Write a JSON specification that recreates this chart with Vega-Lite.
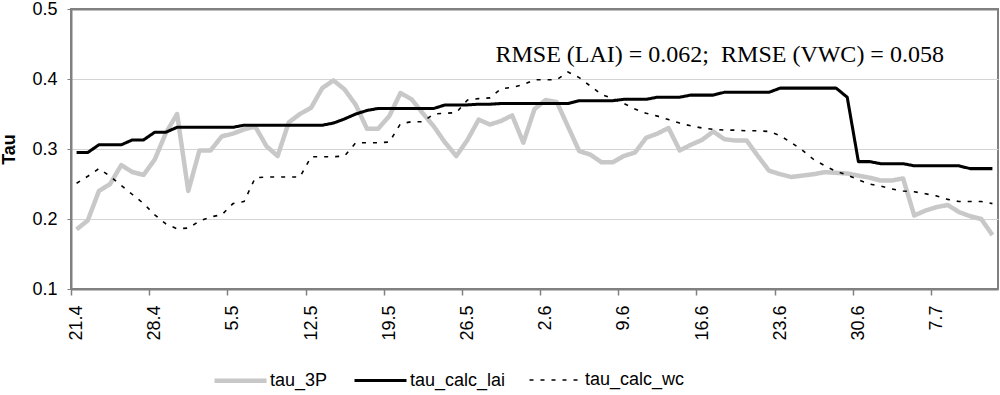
{
  "$schema": "https://vega.github.io/schema/vega-lite/v6.json",
  "width": 927,
  "height": 280,
  "autosize": {"type": "none"},
  "padding": {"left": 71, "top": 9, "right": 2, "bottom": 106},
  "background": "white",
  "config": {
    "view": {"stroke": "#808080", "strokeWidth": 2},
    "font": "Liberation Sans"
  },
  "layer": [
    {
      "data": {
        "values": [
          {"date": "2009-04-21", "tau_3P": 0.185, "tau_calc_lai": 0.295, "tau_calc_wc": 0.251},
          {"date": "2009-04-22", "tau_3P": 0.198, "tau_calc_lai": 0.295, "tau_calc_wc": 0.261},
          {"date": "2009-04-23", "tau_3P": 0.240, "tau_calc_lai": 0.306, "tau_calc_wc": 0.272},
          {"date": "2009-04-24", "tau_3P": 0.250, "tau_calc_lai": 0.306, "tau_calc_wc": 0.261},
          {"date": "2009-04-25", "tau_3P": 0.277, "tau_calc_lai": 0.306, "tau_calc_wc": 0.248},
          {"date": "2009-04-26", "tau_3P": 0.267, "tau_calc_lai": 0.313, "tau_calc_wc": 0.235},
          {"date": "2009-04-27", "tau_3P": 0.263, "tau_calc_lai": 0.313, "tau_calc_wc": 0.222},
          {"date": "2009-04-28", "tau_3P": 0.285, "tau_calc_lai": 0.324, "tau_calc_wc": 0.206},
          {"date": "2009-04-29", "tau_3P": 0.323, "tau_calc_lai": 0.324, "tau_calc_wc": 0.193},
          {"date": "2009-04-30", "tau_3P": 0.350, "tau_calc_lai": 0.331, "tau_calc_wc": 0.186},
          {"date": "2009-05-01", "tau_3P": 0.240, "tau_calc_lai": 0.331, "tau_calc_wc": 0.187},
          {"date": "2009-05-02", "tau_3P": 0.298, "tau_calc_lai": 0.331, "tau_calc_wc": 0.197},
          {"date": "2009-05-03", "tau_3P": 0.298, "tau_calc_lai": 0.331, "tau_calc_wc": 0.203},
          {"date": "2009-05-04", "tau_3P": 0.318, "tau_calc_lai": 0.331, "tau_calc_wc": 0.206},
          {"date": "2009-05-05", "tau_3P": 0.322, "tau_calc_lai": 0.331, "tau_calc_wc": 0.222},
          {"date": "2009-05-06", "tau_3P": 0.328, "tau_calc_lai": 0.334, "tau_calc_wc": 0.225},
          {"date": "2009-05-07", "tau_3P": 0.332, "tau_calc_lai": 0.334, "tau_calc_wc": 0.259},
          {"date": "2009-05-08", "tau_3P": 0.304, "tau_calc_lai": 0.334, "tau_calc_wc": 0.260},
          {"date": "2009-05-09", "tau_3P": 0.290, "tau_calc_lai": 0.334, "tau_calc_wc": 0.260},
          {"date": "2009-05-10", "tau_3P": 0.338, "tau_calc_lai": 0.334, "tau_calc_wc": 0.260},
          {"date": "2009-05-11", "tau_3P": 0.350, "tau_calc_lai": 0.334, "tau_calc_wc": 0.260},
          {"date": "2009-05-12", "tau_3P": 0.359, "tau_calc_lai": 0.334, "tau_calc_wc": 0.289},
          {"date": "2009-05-13", "tau_3P": 0.387, "tau_calc_lai": 0.334, "tau_calc_wc": 0.289},
          {"date": "2009-05-14", "tau_3P": 0.398, "tau_calc_lai": 0.337, "tau_calc_wc": 0.289},
          {"date": "2009-05-15", "tau_3P": 0.385, "tau_calc_lai": 0.343, "tau_calc_wc": 0.290},
          {"date": "2009-05-16", "tau_3P": 0.363, "tau_calc_lai": 0.350, "tau_calc_wc": 0.309},
          {"date": "2009-05-17", "tau_3P": 0.329, "tau_calc_lai": 0.355, "tau_calc_wc": 0.309},
          {"date": "2009-05-18", "tau_3P": 0.329, "tau_calc_lai": 0.358, "tau_calc_wc": 0.309},
          {"date": "2009-05-19", "tau_3P": 0.347, "tau_calc_lai": 0.358, "tau_calc_wc": 0.310},
          {"date": "2009-05-20", "tau_3P": 0.380, "tau_calc_lai": 0.358, "tau_calc_wc": 0.336},
          {"date": "2009-05-21", "tau_3P": 0.371, "tau_calc_lai": 0.358, "tau_calc_wc": 0.339},
          {"date": "2009-05-22", "tau_3P": 0.351, "tau_calc_lai": 0.358, "tau_calc_wc": 0.339},
          {"date": "2009-05-23", "tau_3P": 0.332, "tau_calc_lai": 0.358, "tau_calc_wc": 0.350},
          {"date": "2009-05-24", "tau_3P": 0.309, "tau_calc_lai": 0.363, "tau_calc_wc": 0.351},
          {"date": "2009-05-25", "tau_3P": 0.290, "tau_calc_lai": 0.363, "tau_calc_wc": 0.352},
          {"date": "2009-05-26", "tau_3P": 0.313, "tau_calc_lai": 0.363, "tau_calc_wc": 0.370},
          {"date": "2009-05-27", "tau_3P": 0.342, "tau_calc_lai": 0.364, "tau_calc_wc": 0.372},
          {"date": "2009-05-28", "tau_3P": 0.335, "tau_calc_lai": 0.364, "tau_calc_wc": 0.373},
          {"date": "2009-05-29", "tau_3P": 0.340, "tau_calc_lai": 0.365, "tau_calc_wc": 0.386},
          {"date": "2009-05-30", "tau_3P": 0.348, "tau_calc_lai": 0.365, "tau_calc_wc": 0.388},
          {"date": "2009-05-31", "tau_3P": 0.309, "tau_calc_lai": 0.365, "tau_calc_wc": 0.392},
          {"date": "2009-06-01", "tau_3P": 0.357, "tau_calc_lai": 0.365, "tau_calc_wc": 0.399},
          {"date": "2009-06-02", "tau_3P": 0.370, "tau_calc_lai": 0.365, "tau_calc_wc": 0.399},
          {"date": "2009-06-03", "tau_3P": 0.367, "tau_calc_lai": 0.365, "tau_calc_wc": 0.399},
          {"date": "2009-06-04", "tau_3P": 0.332, "tau_calc_lai": 0.365, "tau_calc_wc": 0.410},
          {"date": "2009-06-05", "tau_3P": 0.297, "tau_calc_lai": 0.369, "tau_calc_wc": 0.402},
          {"date": "2009-06-06", "tau_3P": 0.292, "tau_calc_lai": 0.369, "tau_calc_wc": 0.390},
          {"date": "2009-06-07", "tau_3P": 0.281, "tau_calc_lai": 0.369, "tau_calc_wc": 0.378},
          {"date": "2009-06-08", "tau_3P": 0.281, "tau_calc_lai": 0.369, "tau_calc_wc": 0.372},
          {"date": "2009-06-09", "tau_3P": 0.290, "tau_calc_lai": 0.371, "tau_calc_wc": 0.365},
          {"date": "2009-06-10", "tau_3P": 0.295, "tau_calc_lai": 0.371, "tau_calc_wc": 0.357},
          {"date": "2009-06-11", "tau_3P": 0.316, "tau_calc_lai": 0.371, "tau_calc_wc": 0.351},
          {"date": "2009-06-12", "tau_3P": 0.322, "tau_calc_lai": 0.374, "tau_calc_wc": 0.347},
          {"date": "2009-06-13", "tau_3P": 0.330, "tau_calc_lai": 0.374, "tau_calc_wc": 0.342},
          {"date": "2009-06-14", "tau_3P": 0.298, "tau_calc_lai": 0.374, "tau_calc_wc": 0.337},
          {"date": "2009-06-15", "tau_3P": 0.306, "tau_calc_lai": 0.377, "tau_calc_wc": 0.333},
          {"date": "2009-06-16", "tau_3P": 0.313, "tau_calc_lai": 0.377, "tau_calc_wc": 0.330},
          {"date": "2009-06-17", "tau_3P": 0.325, "tau_calc_lai": 0.377, "tau_calc_wc": 0.328},
          {"date": "2009-06-18", "tau_3P": 0.314, "tau_calc_lai": 0.381, "tau_calc_wc": 0.327},
          {"date": "2009-06-19", "tau_3P": 0.312, "tau_calc_lai": 0.381, "tau_calc_wc": 0.327},
          {"date": "2009-06-20", "tau_3P": 0.312, "tau_calc_lai": 0.381, "tau_calc_wc": 0.326},
          {"date": "2009-06-21", "tau_3P": 0.290, "tau_calc_lai": 0.381, "tau_calc_wc": 0.326},
          {"date": "2009-06-22", "tau_3P": 0.269, "tau_calc_lai": 0.381, "tau_calc_wc": 0.325},
          {"date": "2009-06-23", "tau_3P": 0.264, "tau_calc_lai": 0.387, "tau_calc_wc": 0.319},
          {"date": "2009-06-24", "tau_3P": 0.260, "tau_calc_lai": 0.387, "tau_calc_wc": 0.309},
          {"date": "2009-06-25", "tau_3P": 0.262, "tau_calc_lai": 0.387, "tau_calc_wc": 0.298},
          {"date": "2009-06-26", "tau_3P": 0.264, "tau_calc_lai": 0.387, "tau_calc_wc": 0.285},
          {"date": "2009-06-27", "tau_3P": 0.267, "tau_calc_lai": 0.387, "tau_calc_wc": 0.276},
          {"date": "2009-06-28", "tau_3P": 0.266, "tau_calc_lai": 0.387, "tau_calc_wc": 0.268},
          {"date": "2009-06-29", "tau_3P": 0.265, "tau_calc_lai": 0.374, "tau_calc_wc": 0.263},
          {"date": "2009-06-30", "tau_3P": 0.262, "tau_calc_lai": 0.282, "tau_calc_wc": 0.256},
          {"date": "2009-07-01", "tau_3P": 0.259, "tau_calc_lai": 0.282, "tau_calc_wc": 0.250},
          {"date": "2009-07-02", "tau_3P": 0.255, "tau_calc_lai": 0.279, "tau_calc_wc": 0.247},
          {"date": "2009-07-03", "tau_3P": 0.255, "tau_calc_lai": 0.279, "tau_calc_wc": 0.243},
          {"date": "2009-07-04", "tau_3P": 0.258, "tau_calc_lai": 0.279, "tau_calc_wc": 0.240},
          {"date": "2009-07-05", "tau_3P": 0.205, "tau_calc_lai": 0.276, "tau_calc_wc": 0.239},
          {"date": "2009-07-06", "tau_3P": 0.212, "tau_calc_lai": 0.276, "tau_calc_wc": 0.236},
          {"date": "2009-07-07", "tau_3P": 0.217, "tau_calc_lai": 0.276, "tau_calc_wc": 0.233},
          {"date": "2009-07-08", "tau_3P": 0.220, "tau_calc_lai": 0.276, "tau_calc_wc": 0.228},
          {"date": "2009-07-09", "tau_3P": 0.210, "tau_calc_lai": 0.276, "tau_calc_wc": 0.225},
          {"date": "2009-07-10", "tau_3P": 0.204, "tau_calc_lai": 0.272, "tau_calc_wc": 0.225},
          {"date": "2009-07-11", "tau_3P": 0.200, "tau_calc_lai": 0.272, "tau_calc_wc": 0.225},
          {"date": "2009-07-12", "tau_3P": 0.177, "tau_calc_lai": 0.272, "tau_calc_wc": 0.222}
        ]
      },
      "transform": [
        {"fold": ["tau_3P", "tau_calc_lai", "tau_calc_wc"], "as": ["series", "tau"]}
      ],
      "mark": {"type": "line", "strokeJoin": "round"},
      "encoding": {
        "x": {
          "field": "date",
          "type": "temporal",
          "scale": {
            "type": "utc",
            "domain": [
              {"year": 2009, "month": 4, "date": 20, "hours": 12, "utc": true},
              {"year": 2009, "month": 7, "date": 12, "hours": 12, "utc": true}
            ]
          },
          "axis": {
            "title": null,
            "grid": false,
            "values": [
              {"year": 2009, "month": 4, "date": 21, "utc": true},
              {"year": 2009, "month": 4, "date": 28, "utc": true},
              {"year": 2009, "month": 5, "date": 5, "utc": true},
              {"year": 2009, "month": 5, "date": 12, "utc": true},
              {"year": 2009, "month": 5, "date": 19, "utc": true},
              {"year": 2009, "month": 5, "date": 26, "utc": true},
              {"year": 2009, "month": 6, "date": 2, "utc": true},
              {"year": 2009, "month": 6, "date": 9, "utc": true},
              {"year": 2009, "month": 6, "date": 16, "utc": true},
              {"year": 2009, "month": 6, "date": 23, "utc": true},
              {"year": 2009, "month": 6, "date": 30, "utc": true},
              {"year": 2009, "month": 7, "date": 7, "utc": true}
            ],
            "labelExpr": "utcFormat(datum.value, '%-d.%-m')",
            "labelAngle": 270,
            "labelAlign": "right",
            "labelBaseline": "middle",
            "labelFontSize": 18,
            "labelColor": "#000000",
            "labelPadding": 10,
            "labelFlush": false,
            "labelOverlap": false,
            "tickSize": 6,
            "tickColor": "#808080",
            "tickWidth": 1.5,
            "tickOffset": -5.6,
            "labelOffset": 5.6,
            "domainColor": "#808080",
            "domainWidth": 2
          }
        },
        "y": {
          "field": "tau",
          "type": "quantitative",
          "scale": {"domain": [0.1, 0.5], "nice": false, "zero": false},
          "axis": {
            "title": "Tau",
            "titleFontSize": 18,
            "titleFontWeight": "bold",
            "titleColor": "#000000",
            "titleX": -53,
            "titleY": 140,
            "values": [0.1, 0.2, 0.3, 0.4, 0.5],
            "format": ".1f",
            "labelFontSize": 18,
            "labelColor": "#000000",
            "labelPadding": 10,
            "labelFlush": false,
            "tickSize": 4,
            "tickColor": "#808080",
            "domainColor": "#808080",
            "domainWidth": 2,
            "grid": true,
            "gridColor": {"condition": {"test": "datum.value >= 0.49", "value": "#808080"}, "value": "#d4d4d4"},
            "gridWidth": {"condition": {"test": "datum.value >= 0.49", "value": 2}, "value": 1}
          }
        },
        "color": {
          "field": "series",
          "type": "nominal",
          "scale": {"domain": ["tau_3P", "tau_calc_lai", "tau_calc_wc"], "range": ["#c8c8c8", "#000000", "#000000"]},
          "legend": {
            "title": null,
            "orient": "none",
            "legendX": 141,
            "legendY": 343,
            "direction": "horizontal",
            "columns": 3,
            "symbolType": "stroke",
            "symbolSize": 2704,
            "labelFontSize": 18,
            "labelColor": "#000000",
            "labelOffset": 1,
            "columnPadding": 20
          }
        },
        "strokeDash": {
          "field": "series",
          "type": "nominal",
          "scale": {"domain": ["tau_3P", "tau_calc_lai", "tau_calc_wc"], "range": [[1, 0], [1, 0], [4, 7]]}
        },
        "strokeWidth": {
          "field": "series",
          "type": "nominal",
          "scale": {"domain": ["tau_3P", "tau_calc_lai", "tau_calc_wc"], "range": [4.5, 1.6, 2]}
        }
      }
    },
    {
      "data": {"values": [{"label": "RMSE (LAI) = 0.062;\u00a0 RMSE (VWC) = 0.058"}]},
      "mark": {"type": "text", "font": "Liberation Serif", "fontSize": 24, "align": "center", "baseline": "alphabetic", "color": "#000000"},
      "encoding": {
        "x": {"datum": {"year": 2009, "month": 6, "date": 17, "hours": 14, "utc": true}, "type": "temporal"},
        "y": {"datum": 0.424, "type": "quantitative"},
        "text": {"field": "label", "type": "nominal"}
      }
    }
  ]
}
